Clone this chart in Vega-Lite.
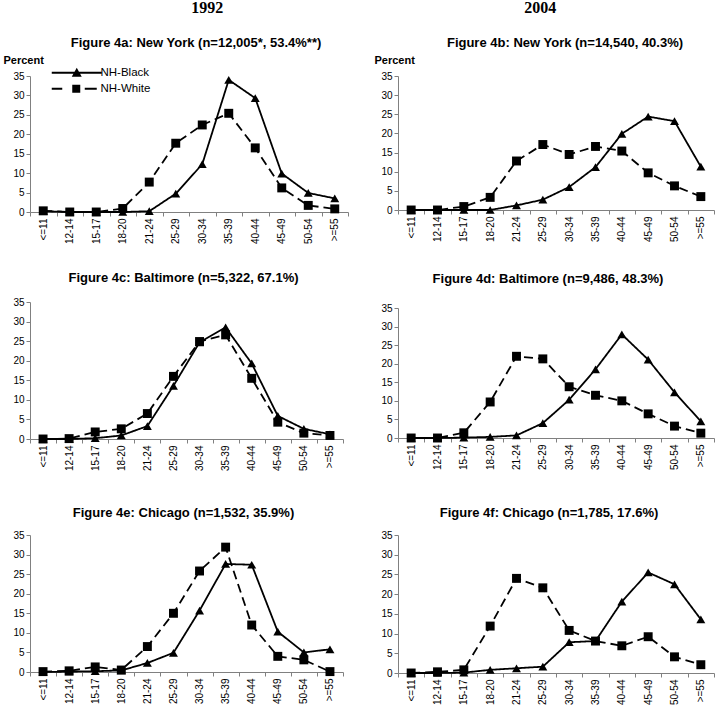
{
  "$schema": "https://vega.github.io/schema/vega-lite/v6.json",
  "padding": {"left": 0, "top": 0, "right": 0, "bottom": 0},
  "background": "white",
  "datasets": {
    "rows": [
      {"p":"a","age":"<=11","NH-Black":0.2,"NH-White":0.3},
      {"p":"a","age":"12-14","NH-Black":0,"NH-White":0},
      {"p":"a","age":"15-17","NH-Black":0,"NH-White":0},
      {"p":"a","age":"18-20","NH-Black":0,"NH-White":0.9},
      {"p":"a","age":"21-24","NH-Black":0.2,"NH-White":7.7},
      {"p":"a","age":"25-29","NH-Black":4.7,"NH-White":17.7},
      {"p":"a","age":"30-34","NH-Black":12.3,"NH-White":22.4},
      {"p":"a","age":"35-39","NH-Black":34.0,"NH-White":25.4},
      {"p":"a","age":"40-44","NH-Black":29.3,"NH-White":16.5},
      {"p":"a","age":"45-49","NH-Black":9.9,"NH-White":6.2},
      {"p":"a","age":"50-54","NH-Black":4.9,"NH-White":1.7},
      {"p":"a","age":">=55","NH-Black":3.5,"NH-White":0.8},
      {"p":"b","age":"<=11","NH-Black":0,"NH-White":0},
      {"p":"b","age":"12-14","NH-Black":0,"NH-White":0},
      {"p":"b","age":"15-17","NH-Black":0,"NH-White":0.9},
      {"p":"b","age":"18-20","NH-Black":0,"NH-White":3.3},
      {"p":"b","age":"21-24","NH-Black":1.2,"NH-White":12.8},
      {"p":"b","age":"25-29","NH-Black":2.7,"NH-White":17.1},
      {"p":"b","age":"30-34","NH-Black":6.0,"NH-White":14.5},
      {"p":"b","age":"35-39","NH-Black":11.2,"NH-White":16.6},
      {"p":"b","age":"40-44","NH-Black":19.9,"NH-White":15.4},
      {"p":"b","age":"45-49","NH-Black":24.4,"NH-White":9.7},
      {"p":"b","age":"50-54","NH-Black":23.2,"NH-White":6.3},
      {"p":"b","age":">=55","NH-Black":11.3,"NH-White":3.5},
      {"p":"c","age":"<=11","NH-Black":0,"NH-White":0},
      {"p":"c","age":"12-14","NH-Black":0,"NH-White":0.1},
      {"p":"c","age":"15-17","NH-Black":0.2,"NH-White":1.8},
      {"p":"c","age":"18-20","NH-Black":0.9,"NH-White":2.6},
      {"p":"c","age":"21-24","NH-Black":3.3,"NH-White":6.5},
      {"p":"c","age":"25-29","NH-Black":13.6,"NH-White":16.0},
      {"p":"c","age":"30-34","NH-Black":24.7,"NH-White":24.9},
      {"p":"c","age":"35-39","NH-Black":28.5,"NH-White":26.6},
      {"p":"c","age":"40-44","NH-Black":19.3,"NH-White":15.5},
      {"p":"c","age":"45-49","NH-Black":5.9,"NH-White":4.3},
      {"p":"c","age":"50-54","NH-Black":2.6,"NH-White":1.5},
      {"p":"c","age":">=55","NH-Black":1.2,"NH-White":0.9},
      {"p":"d","age":"<=11","NH-Black":0,"NH-White":0},
      {"p":"d","age":"12-14","NH-Black":0,"NH-White":0},
      {"p":"d","age":"15-17","NH-Black":0.1,"NH-White":1.4},
      {"p":"d","age":"18-20","NH-Black":0.3,"NH-White":9.7},
      {"p":"d","age":"21-24","NH-Black":0.7,"NH-White":22.0},
      {"p":"d","age":"25-29","NH-Black":4.0,"NH-White":21.3},
      {"p":"d","age":"30-34","NH-Black":10.3,"NH-White":13.8},
      {"p":"d","age":"35-39","NH-Black":18.5,"NH-White":11.5},
      {"p":"d","age":"40-44","NH-Black":27.9,"NH-White":10.0},
      {"p":"d","age":"45-49","NH-Black":21.1,"NH-White":6.5},
      {"p":"d","age":"50-54","NH-Black":12.3,"NH-White":3.2},
      {"p":"d","age":">=55","NH-Black":4.5,"NH-White":1.3},
      {"p":"e","age":"<=11","NH-Black":0,"NH-White":0.1},
      {"p":"e","age":"12-14","NH-Black":0.1,"NH-White":0.3},
      {"p":"e","age":"15-17","NH-Black":0.2,"NH-White":1.3},
      {"p":"e","age":"18-20","NH-Black":0.4,"NH-White":0.5},
      {"p":"e","age":"21-24","NH-Black":2.3,"NH-White":6.5},
      {"p":"e","age":"25-29","NH-Black":4.9,"NH-White":15.0},
      {"p":"e","age":"30-34","NH-Black":15.7,"NH-White":25.8},
      {"p":"e","age":"35-39","NH-Black":27.6,"NH-White":31.9},
      {"p":"e","age":"40-44","NH-Black":27.4,"NH-White":12.0},
      {"p":"e","age":"45-49","NH-Black":10.3,"NH-White":4.0},
      {"p":"e","age":"50-54","NH-Black":5.0,"NH-White":3.1},
      {"p":"e","age":">=55","NH-Black":5.8,"NH-White":0.1},
      {"p":"f","age":"<=11","NH-Black":0,"NH-White":0},
      {"p":"f","age":"12-14","NH-Black":0,"NH-White":0.3},
      {"p":"f","age":"15-17","NH-Black":0.1,"NH-White":0.8},
      {"p":"f","age":"18-20","NH-Black":0.8,"NH-White":11.9},
      {"p":"f","age":"21-24","NH-Black":1.2,"NH-White":24.0},
      {"p":"f","age":"25-29","NH-Black":1.6,"NH-White":21.6},
      {"p":"f","age":"30-34","NH-Black":7.8,"NH-White":10.8},
      {"p":"f","age":"35-39","NH-Black":8.1,"NH-White":8.1},
      {"p":"f","age":"40-44","NH-Black":18.1,"NH-White":6.9},
      {"p":"f","age":"45-49","NH-Black":25.5,"NH-White":9.2},
      {"p":"f","age":"50-54","NH-Black":22.5,"NH-White":4.1},
      {"p":"f","age":">=55","NH-Black":13.6,"NH-White":2.1}
    ]
  },
  "data": {"name": "rows"},
  "transform": [{"fold": ["NH-Black", "NH-White"], "as": ["group", "pct"]}],
  "config": {
    "view": {"stroke": null},
    "font": "Liberation Sans",
    "axis": {
      "grid": false,
      "domainColor": "#808080",
      "tickColor": "#808080",
      "tickSize": 4,
      "labelColor": "#000000",
      "labelFont": "Liberation Sans",
      "labelFontSize": 10,
      "titleColor": "#000000",
      "titleFont": "Liberation Sans"
    },
    "title": {"color": "#000000", "font": "Liberation Sans"}
  },
  "spacing": 25,
  "hconcat": [
    {
      "title": {"text": "1992", "font": "Liberation Serif", "fontSize": 16, "fontWeight": "bold", "anchor": "middle", "frame": "bounds", "dx": 33, "offset": 21},
      "spacing": 28,
      "vconcat": [
        {
          "width": 318, "height": 136,
          "title": {"text": "Figure 4a: New York (n=12,005*, 53.4%**)", "fontSize": 13, "fontWeight": "bold", "anchor": "middle", "frame": "group", "dx": 7, "offset": 4},
          "transform": [{"filter": "datum.p === 'a'"}],
          "encoding": {
            "x": {"field": "age", "type": "nominal", "sort": ["<=11","12-14","15-17","18-20","21-24","25-29","30-34","35-39","40-44","45-49","50-54",">=55"], "scale": {"paddingInner": 0, "paddingOuter": 0}, "axis": {"title": null, "labelAngle": -90, "tickBand": "extent", "labelFontSize": 10}},
            "y": {"field": "pct", "type": "quantitative", "scale": {"domain": [0, 35], "nice": false}, "axis": {"values": [0,5,10,15,20,25,30,35], "title": "Percent", "titleAngle": 0, "titleX": -27, "titleY": -16, "titleAlign": "left", "titleBaseline": "middle", "titleFontWeight": "bold", "titleFontSize": 11}}
          },
          "layer": [
            {"mark": {"type": "line", "color": "black", "strokeWidth": 1.8}, "encoding": {"detail": {"field": "group"}, "strokeDash": {"condition": {"test": "datum.group === 'NH-White'", "value": [9, 5]}, "value": [1, 0]}}},
            {"mark": {"type": "point", "filled": true, "color": "black", "opacity": 1, "size": 80}, "encoding": {"shape": {"condition": {"test": "datum.group === 'NH-White'", "value": "square"}, "value": "triangle-up"}}},
            {"mark": {"type": "point", "filled": true, "color": "black", "opacity": 0, "size": 1}, "encoding": {"shape": {"field": "group", "type": "nominal", "scale": {"domain": ["NH-Black", "NH-White"], "range": ["M-1,-0.18L9,-0.18L9,0.18L-1,0.18ZM4,-1L5,0.8L3,0.8Z", "M-1,-0.18L1.1,-0.18L1.1,0.18L-1,0.18ZM5.6,-0.18L8,-0.18L8,0.18L5.6,0.18ZM3.1,-0.8L4.7,-0.8L4.7,0.8L3.1,0.8Z"]}, "legend": {"title": null, "orient": "none", "legendX": 21, "legendY": -9, "padding": 0, "symbolSize": 100, "symbolOpacity": 1, "symbolFillColor": "black", "symbolStrokeColor": "black", "symbolStrokeWidth": 0.6, "rowPadding": 3, "labelOffset": 38, "labelFont": "Liberation Sans", "labelFontSize": 11.5, "labelColor": "#000000"}}}}
          ]
        },
        {
          "spacing": 36,
          "vconcat": [
            {
              "width": 313, "height": 137,
              "title": {"text": "Figure 4c: Baltimore (n=5,322, 67.1%)", "fontSize": 13, "fontWeight": "bold", "anchor": "middle", "frame": "group", "dx": -3, "offset": 12},
              "transform": [{"filter": "datum.p === 'c'"}],
              "encoding": {
                "x": {"field": "age", "type": "nominal", "sort": ["<=11","12-14","15-17","18-20","21-24","25-29","30-34","35-39","40-44","45-49","50-54",">=55"], "scale": {"paddingInner": 0, "paddingOuter": 0}, "axis": {"title": null, "labelAngle": -90, "tickBand": "extent", "labelFontSize": 10}},
                "y": {"field": "pct", "type": "quantitative", "scale": {"domain": [0, 35], "nice": false}, "axis": {"values": [0,5,10,15,20,25,30,35], "title": null, "minExtent": 30}}
              },
              "layer": [
                {"mark": {"type": "line", "color": "black", "strokeWidth": 1.8}, "encoding": {"detail": {"field": "group"}, "strokeDash": {"condition": {"test": "datum.group === 'NH-White'", "value": [9, 5]}, "value": [1, 0]}}},
                {"mark": {"type": "point", "filled": true, "color": "black", "opacity": 1, "size": 80}, "encoding": {"shape": {"condition": {"test": "datum.group === 'NH-White'", "value": "square"}, "value": "triangle-up"}}}
              ]
            },
            {
              "width": 313, "height": 137,
              "title": {"text": "Figure 4e: Chicago (n=1,532, 35.9%)", "fontSize": 13, "fontWeight": "bold", "anchor": "middle", "frame": "group", "dx": -3, "offset": 10},
              "transform": [{"filter": "datum.p === 'e'"}],
              "encoding": {
                "x": {"field": "age", "type": "nominal", "sort": ["<=11","12-14","15-17","18-20","21-24","25-29","30-34","35-39","40-44","45-49","50-54",">=55"], "scale": {"paddingInner": 0, "paddingOuter": 0}, "axis": {"title": null, "labelAngle": -90, "tickBand": "extent", "labelFontSize": 10}},
                "y": {"field": "pct", "type": "quantitative", "scale": {"domain": [0, 35], "nice": false}, "axis": {"values": [0,5,10,15,20,25,30,35], "title": null, "minExtent": 30}}
              },
              "layer": [
                {"mark": {"type": "line", "color": "black", "strokeWidth": 1.8}, "encoding": {"detail": {"field": "group"}, "strokeDash": {"condition": {"test": "datum.group === 'NH-White'", "value": [9, 5]}, "value": [1, 0]}}},
                {"mark": {"type": "point", "filled": true, "color": "black", "opacity": 1, "size": 80}, "encoding": {"shape": {"condition": {"test": "datum.group === 'NH-White'", "value": "square"}, "value": "triangle-up"}}}
              ]
            }
          ]
        }
      ]
    },
    {
      "title": {"text": "2004", "font": "Liberation Serif", "fontSize": 16, "fontWeight": "bold", "anchor": "middle", "frame": "bounds", "dx": -4, "offset": 21},
      "spacing": 31,
      "vconcat": [
        {
          "width": 316, "height": 134,
          "title": {"text": "Figure 4b: New York (n=14,540, 40.3%)", "fontSize": 13, "fontWeight": "bold", "anchor": "middle", "frame": "group", "dx": 9, "offset": 4},
          "transform": [{"filter": "datum.p === 'b'"}],
          "encoding": {
            "x": {"field": "age", "type": "nominal", "sort": ["<=11","12-14","15-17","18-20","21-24","25-29","30-34","35-39","40-44","45-49","50-54",">=55"], "scale": {"paddingInner": 0, "paddingOuter": 0}, "axis": {"title": null, "labelAngle": -90, "tickBand": "extent", "labelFontSize": 10}},
            "y": {"field": "pct", "type": "quantitative", "scale": {"domain": [0, 35], "nice": false}, "axis": {"values": [0,5,10,15,20,25,30,35], "title": "Percent", "titleAngle": 0, "titleX": -24, "titleY": -16, "titleAlign": "left", "titleBaseline": "middle", "titleFontWeight": "bold", "titleFontSize": 11}}
          },
          "layer": [
            {"mark": {"type": "line", "color": "black", "strokeWidth": 1.8}, "encoding": {"detail": {"field": "group"}, "strokeDash": {"condition": {"test": "datum.group === 'NH-White'", "value": [9, 5]}, "value": [1, 0]}}},
            {"mark": {"type": "point", "filled": true, "color": "black", "opacity": 1, "size": 80}, "encoding": {"shape": {"condition": {"test": "datum.group === 'NH-White'", "value": "square"}, "value": "triangle-up"}}}
          ]
        },
        {
          "spacing": 37,
          "vconcat": [
            {
              "width": 316, "height": 130,
              "title": {"text": "Figure 4d: Baltimore (n=9,486, 48.3%)", "fontSize": 13, "fontWeight": "bold", "anchor": "middle", "frame": "group", "dx": -8, "offset": 17},
              "transform": [{"filter": "datum.p === 'd'"}],
              "encoding": {
                "x": {"field": "age", "type": "nominal", "sort": ["<=11","12-14","15-17","18-20","21-24","25-29","30-34","35-39","40-44","45-49","50-54",">=55"], "scale": {"paddingInner": 0, "paddingOuter": 0}, "axis": {"title": null, "labelAngle": -90, "tickBand": "extent", "labelFontSize": 10}},
                "y": {"field": "pct", "type": "quantitative", "scale": {"domain": [0, 35], "nice": false}, "axis": {"values": [0,5,10,15,20,25,30,35], "title": null, "minExtent": 24}}
              },
              "layer": [
                {"mark": {"type": "line", "color": "black", "strokeWidth": 1.8}, "encoding": {"detail": {"field": "group"}, "strokeDash": {"condition": {"test": "datum.group === 'NH-White'", "value": [9, 5]}, "value": [1, 0]}}},
                {"mark": {"type": "point", "filled": true, "color": "black", "opacity": 1, "size": 80}, "encoding": {"shape": {"condition": {"test": "datum.group === 'NH-White'", "value": "square"}, "value": "triangle-up"}}}
              ]
            },
            {
              "width": 316, "height": 138,
              "title": {"text": "Figure 4f: Chicago (n=1,785, 17.6%)", "fontSize": 13, "fontWeight": "bold", "anchor": "middle", "frame": "group", "dx": -7, "offset": 10},
              "transform": [{"filter": "datum.p === 'f'"}],
              "encoding": {
                "x": {"field": "age", "type": "nominal", "sort": ["<=11","12-14","15-17","18-20","21-24","25-29","30-34","35-39","40-44","45-49","50-54",">=55"], "scale": {"paddingInner": 0, "paddingOuter": 0}, "axis": {"title": null, "labelAngle": -90, "tickBand": "extent", "labelFontSize": 10}},
                "y": {"field": "pct", "type": "quantitative", "scale": {"domain": [0, 35], "nice": false}, "axis": {"values": [0,5,10,15,20,25,30,35], "title": null, "minExtent": 24}}
              },
              "layer": [
                {"mark": {"type": "line", "color": "black", "strokeWidth": 1.8}, "encoding": {"detail": {"field": "group"}, "strokeDash": {"condition": {"test": "datum.group === 'NH-White'", "value": [9, 5]}, "value": [1, 0]}}},
                {"mark": {"type": "point", "filled": true, "color": "black", "opacity": 1, "size": 80}, "encoding": {"shape": {"condition": {"test": "datum.group === 'NH-White'", "value": "square"}, "value": "triangle-up"}}}
              ]
            }
          ]
        }
      ]
    }
  ]
}
